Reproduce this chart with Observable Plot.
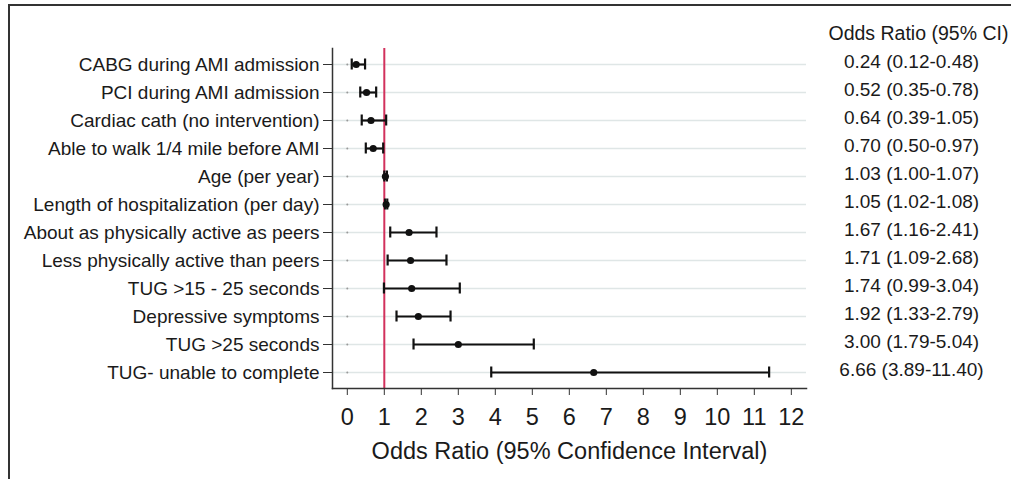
<!DOCTYPE html>
<html><head><meta charset="utf-8">
<script src="https://cdn.jsdelivr.net/npm/d3@7"></script>
<script src="https://cdn.jsdelivr.net/npm/@observablehq/plot@0.6"></script>
<style>
body{margin:0;background:#fff;}
#wrap{position:relative;width:1011px;height:479px;overflow:hidden;font-family:"Liberation Sans",Arial,sans-serif;}
#wrap svg{position:absolute;top:0;}
#border{position:absolute;left:8px;top:4px;width:1100px;height:600px;border-left:2px solid #333;border-top:2px solid #333;pointer-events:none;}
</style></head><body>
<div id="wrap"><div id="border"></div></div>
<script>
const labels = [
  "CABG during AMI admission",
  "PCI during AMI admission",
  "Cardiac cath (no intervention)",
  "Able to walk 1/4 mile before AMI",
  "Age (per year)",
  "Length of hospitalization (per day)",
  "About as physically active as peers",
  "Less physically active than peers",
  "TUG >15 - 25 seconds",
  "Depressive symptoms",
  "TUG >25 seconds",
  "TUG- unable to complete"
];
const oddsRatio = [0.24, 0.52, 0.64, 0.70, 1.03, 1.05, 1.67, 1.71, 1.74, 1.92, 3.00, 6.66];
const ciLow     = [0.12, 0.35, 0.39, 0.50, 1.00, 1.02, 1.16, 1.09, 0.99, 1.33, 1.79, 3.89];
const ciHigh    = [0.48, 0.78, 1.05, 0.97, 1.07, 1.08, 2.41, 2.68, 3.04, 2.79, 5.04, 11.40];
const xTicks = [0, 1, 2, 3, 4, 5, 6, 7, 8, 9, 10, 11, 12];
const referenceValue = [1];
const zeroValue = 0;
const xTitle = "Odds Ratio (95% Confidence Interval)";
const columnTitle = "Odds Ratio (95% CI)";

const data = labels.map((label, i) => ({
  label, or: oddsRatio[i], lo: ciLow[i], hi: ciHigh[i],
  text: `${oddsRatio[i].toFixed(2)} (${ciLow[i].toFixed(2)}-${ciHigh[i].toFixed(2)})`
}));

const font = '"Liberation Sans", Arial, sans-serif';
const plot = Plot.plot({
  width: 1011, height: 479,
  marginLeft: 332, marginRight: 205, marginTop: 48, marginBottom: 91,
  style: {fontFamily: font, fontSize: "19px", color: "#1a1a1a", background: "transparent", overflow: "visible"},
  x: {domain: [-0.4, 12.41]},
  y: {domain: labels, paddingInner: 0, paddingOuter: 0.03},
  marks: [
    Plot.gridY({stroke: "#dfe6e6", strokeOpacity: 1, strokeWidth: 1.3}),
    Plot.ruleX(referenceValue, {stroke: "#d2315c", strokeWidth: 2}),
    Plot.dot(data, {x: () => zeroValue, y: "label", r: 1, fill: "#999", stroke: null}),
    Plot.ruleY(data, {y: "label", x1: "lo", x2: "hi", stroke: "#111", strokeWidth: 2.2}),
    Plot.tickX(data, {x: "lo", y: "label", stroke: "#111", strokeWidth: 2.2, insetTop: 8.5, insetBottom: 8.5}),
    Plot.tickX(data, {x: "hi", y: "label", stroke: "#111", strokeWidth: 2.2, insetTop: 8.5, insetBottom: 8.5}),
    Plot.dot(data, {x: "or", y: "label", r: 3.6, fill: "#111", stroke: null}),
    Plot.frame({anchor: "left", stroke: "#333", strokeWidth: 1.5}),
    Plot.frame({anchor: "bottom", stroke: "#333", strokeWidth: 1.5}),
    Plot.axisY({tickSize: 9, tickPadding: 4, fontSize: 19, label: null, stroke: "#333", fill: "#1a1a1a"}),
    Plot.axisX({ticks: xTicks, tickSize: 7, tickPadding: 13, fontSize: 23.5, label: null, stroke: "#333", fill: "#1a1a1a"}),
    Plot.text([xTitle], {text: d => d, frameAnchor: "bottom", dy: 63, lineAnchor: "middle", fontSize: 23.5, fill: "#1a1a1a"})
  ]
});

// Table column on the right: its own row scale
const table = Plot.plot({
  width: 205, height: 479,
  marginLeft: 0, marginRight: 0, marginTop: 57, marginBottom: 106,
  style: {fontFamily: font, fontSize: "19px", color: "#1a1a1a", background: "transparent", overflow: "visible"},
  x: {axis: null},
  y: {type: "point", domain: labels, padding: 0, axis: null},
  marks: [
    Plot.text(data, {y: "label", text: "text", frameAnchor: "left", dx: 105, textAnchor: "middle", lineAnchor: "middle", fontSize: 19, fill: "#1a1a1a"}),
    Plot.text([columnTitle], {text: d => d, frameAnchor: "top-left", dx: 22, dy: -24, textAnchor: "start", lineAnchor: "middle", fontSize: 19.5, fill: "#1a1a1a"})
  ]
});
table.style.left = "806px";
const wrap = document.getElementById("wrap");
wrap.prepend(table);
wrap.prepend(plot);
plot.style.left = "0px";
</script>
</body></html>
